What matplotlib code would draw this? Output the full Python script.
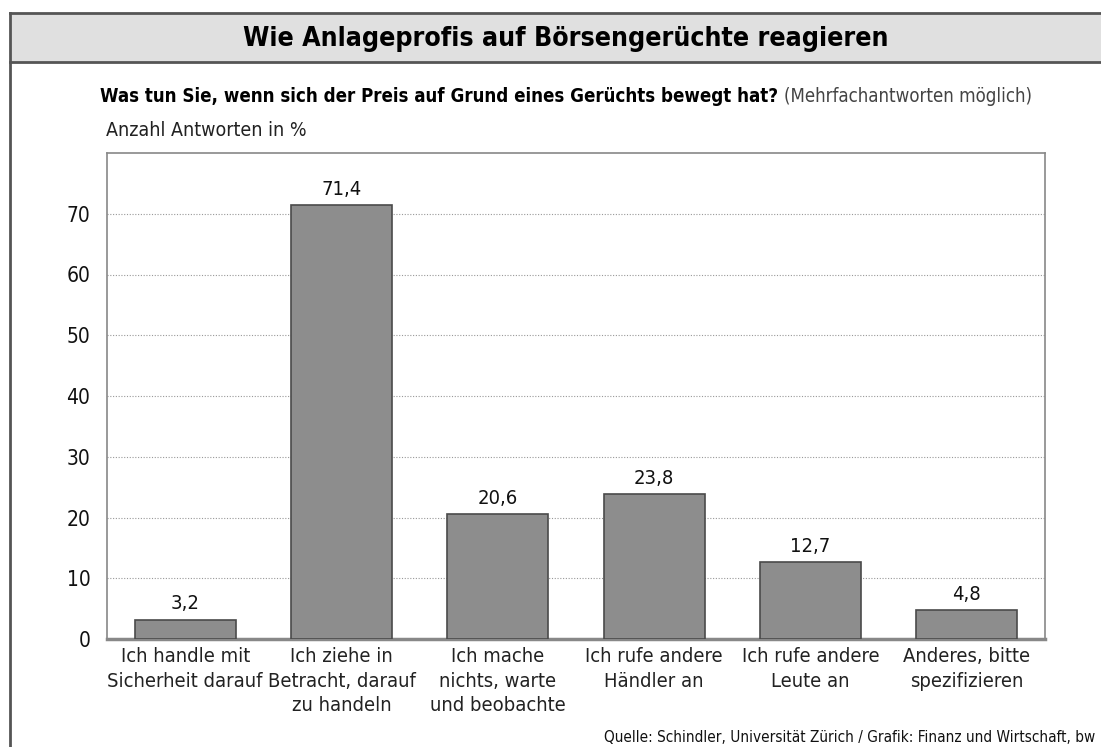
import os
import matplotlib
matplotlib.use("Agg")
import matplotlib.pyplot as plt
import matplotlib.font_manager as fm
from matplotlib.patches import Rectangle
from matplotlib.lines import Line2D

categories = [
    "Ich handle mit\nSicherheit darauf",
    "Ich ziehe in\nBetracht, darauf\nzu handeln",
    "Ich mache\nnichts, warte\nund beobachte",
    "Ich rufe andere\nHändler an",
    "Ich rufe andere\nLeute an",
    "Anderes, bitte\nspezifizieren",
]
values = [3.2, 71.4, 20.6, 23.8, 12.7, 4.8]
value_labels = ["3,2", "71,4", "20,6", "23,8", "12,7", "4,8"]
yticks = [0, 10, 20, 30, 40, 50, 60, 70]


# look for a narrow sans font (the original uses a condensed grotesk)
def find_font(names):
    files = {os.path.basename(f.fname).lower(): f.fname for f in fm.fontManager.ttflist}
    for n in names:
        if n.lower() in files:
            return files[n.lower()]
    return None


reg_file = find_font(["LiberationSansNarrow-Regular.ttf", "DejaVuSansCondensed.ttf",
                      "RobotoCondensed-Regular.ttf"])
bold_file = find_font(["LiberationSansNarrow-Bold.ttf", "DejaVuSansCondensed-Bold.ttf",
                       "RobotoCondensed-Bold.ttf"])
REG = fm.FontProperties(fname=reg_file) if reg_file else fm.FontProperties(family="DejaVu Sans")
BOLD = fm.FontProperties(fname=bold_file) if bold_file else fm.FontProperties(family="DejaVu Sans", weight="bold")


def fp(base, size):
    p = base.copy()
    p.set_size(size)
    return p


W, H = 1101, 747
fig = plt.figure(figsize=(W / 100, H / 100), dpi=100)


def fit(t, target_w):
    # scale a text so its width matches the reference
    fig.canvas.draw()
    w = t.get_window_extent().width
    t.set_fontsize(t.get_fontsize() * target_w / w)


# header band and outer frame
fig.patches.append(Rectangle((10 / W, 1 - 62 / H), 1, 49 / H, transform=fig.transFigure,
                             facecolor="#e0e0e0", edgecolor="none", zorder=0))
for y in (13, 62):
    fig.add_artist(Line2D([10 / W, 1], [1 - y / H, 1 - y / H], transform=fig.transFigure,
                          color="#555555", lw=2))
fig.add_artist(Line2D([10 / W, 10 / W], [0, 1 - 13 / H], transform=fig.transFigure,
                      color="#555555", lw=2))

title = fig.text(566 / W, 1 - 39 / H, "Wie Anlageprofis auf Börsengerüchte reagieren",
                 ha="center", va="center", fontproperties=fp(BOLD, 23))
fit(title, 647)

sub1 = fig.text(100 / W, 1 - 96 / H, "Was tun Sie, wenn sich der Preis auf Grund eines Gerüchts bewegt hat?",
                ha="left", va="center", fontproperties=fp(BOLD, 13))
sub2 = fig.text(0, 1 - 96 / H, "(Mehrfachantworten möglich)",
                ha="left", va="center", fontproperties=fp(REG, 13), color="#444444")
fig.canvas.draw()
w1 = sub1.get_window_extent().width
w2 = sub2.get_window_extent().width
k = (1035 - 100 - 6) / (w1 + w2)
sub1.set_fontsize(13 * k)
sub2.set_fontsize(13 * k)
fig.canvas.draw()
sub2.set_x((sub1.get_window_extent().x1 + 6) / W)

fig.text(106 / W, 1 - 131 / H, "Anzahl Antworten in %", ha="left", va="center",
         fontproperties=fp(REG, 14), color="#222222")

ax = fig.add_axes([107 / W, 108 / H, 938 / W, 486 / H])
x = list(range(len(values)))
ax.bar(x, values, width=0.645, color="#8d8d8d", edgecolor="#4a4a4a", linewidth=1.2, zorder=3)
for xi, v, lab in zip(x, values, value_labels):
    ax.text(xi, v + 1.0, lab, ha="center", va="bottom", fontproperties=fp(REG, 14.5), color="#111111")

ax.set_xlim(-0.5, 5.5)
ax.set_ylim(0, 80)
ax.set_yticks(yticks)
ax.set_yticklabels([str(v) for v in yticks], fontproperties=fp(REG, 15), color="#111111")
ax.set_xticks(x)
ax.set_xticklabels(categories, fontproperties=fp(REG, 14.5), color="#222222", linespacing=1.35)
ax.tick_params(axis="y", length=0, pad=12)
ax.tick_params(axis="x", length=0, pad=6)
ax.grid(axis="y", linestyle=(0, (1, 1.5)), color="#999999", linewidth=0.8, zorder=0)
for s in ("left", "right", "top"):
    ax.spines[s].set_color("#888888")
    ax.spines[s].set_linewidth(1.2)
ax.spines["bottom"].set_color("#888888")
ax.spines["bottom"].set_linewidth(2.5)

src = fig.text(1095 / W, 1 - 737 / H,
               "Quelle: Schindler, Universität Zürich / Grafik: Finanz und Wirtschaft, bw",
               ha="right", va="center", fontproperties=fp(REG, 11.5), color="#111111")
fit(src, 1095 - 604)

fig.savefig("out.png", dpi=100)
